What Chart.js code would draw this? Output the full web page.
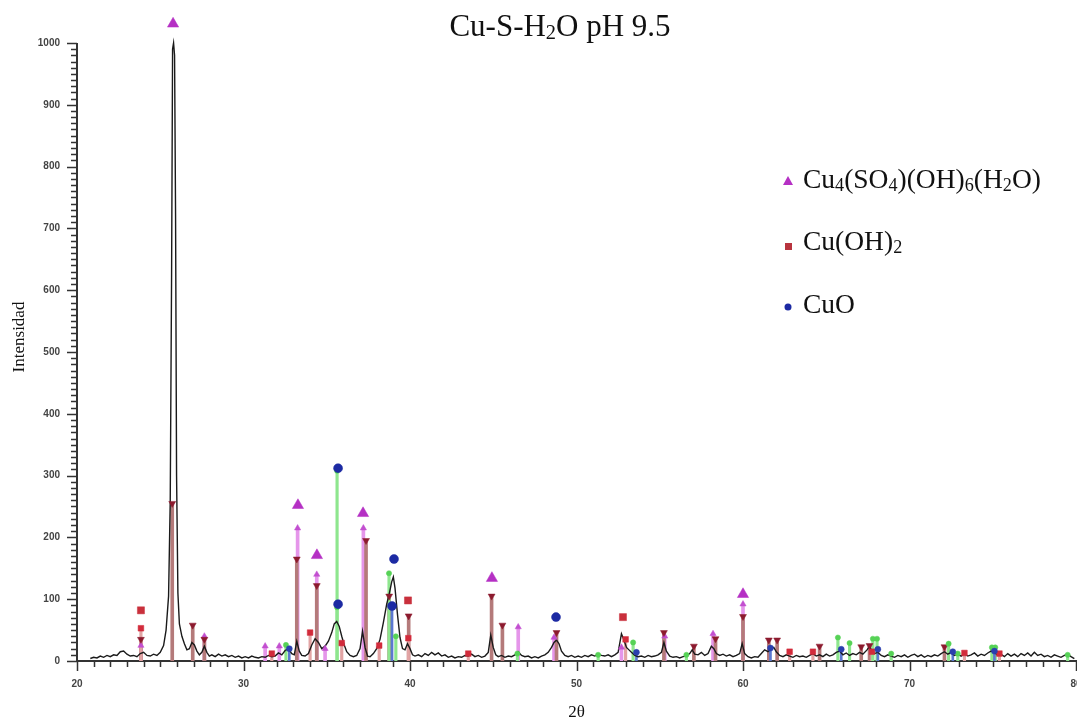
<!DOCTYPE html>
<html>
<head>
<meta charset="utf-8">
<script src="https://cdn.jsdelivr.net/npm/chart.js@4.4.0/dist/chart.umd.min.js"></script>
<style>
    html, body { margin: 0; padding: 0; background: #fff; }
    #caixa { width: 1077px; height: 725px; }
</style>
</head>
<body>
<div id="caixa"><canvas id="difratograma"></canvas></div>
<script>
// textos (o "_" marca o indice que vai em subscrito)
let tituloGrafico = 'Cu-S-H_2O pH 9.5';
let nomesFases = ['Cu_4(SO_4)(OH)_6(H_2O)', 'Cu(OH)_2', 'CuO'];

// difratograma medido
let angulo = [
    20.8, 21.0, 21.2, 21.4, 21.6, 21.8, 22.0, 22.2, 22.4, 22.6, 22.8, 23.0, 23.2, 23.4, 23.6, 23.8, 24.0, 24.2, 24.4, 24.6, 24.8, 25.0,
    25.2, 25.35, 25.5, 25.6, 25.68, 25.74, 25.8, 25.86, 25.92, 25.98, 26.06, 26.15, 26.3, 26.45, 26.6, 26.75, 26.9, 27.05, 27.2, 27.35, 27.5, 27.65, 27.8, 27.95,
    28.1, 28.3, 28.5, 28.7, 28.9, 29.1, 29.3, 29.5, 29.7, 29.9, 30.1, 30.3, 30.5, 30.7, 30.9, 31.1, 31.3, 31.5, 31.7, 31.9,
    32.1, 32.3, 32.5, 32.7, 32.9, 33.05, 33.2, 33.35, 33.5, 33.7, 33.9, 34.1, 34.3, 34.5, 34.7, 34.9, 35.1, 35.3, 35.45, 35.6, 35.75, 35.9, 36.05, 36.2, 36.4, 36.6, 36.8,
    37.0, 37.15, 37.3, 37.45, 37.6, 37.8, 38.0, 38.2, 38.4, 38.6, 38.75, 38.9, 39.0, 39.1, 39.25, 39.4, 39.55, 39.7, 39.85, 40.0, 40.15, 40.3,
    40.5, 40.7, 40.9, 41.1, 41.3, 41.5, 41.7, 41.9, 42.1, 42.3, 42.5, 42.7, 42.9, 43.1, 43.3, 43.5, 43.7, 43.9, 44.1, 44.3, 44.5,
    44.7, 44.85, 45.0, 45.15, 45.3, 45.5, 45.7, 45.9, 46.1, 46.3, 46.5, 46.7, 46.9, 47.1, 47.3, 47.5, 47.7, 47.9, 48.1, 48.3, 48.5, 48.65, 48.8, 48.95, 49.1, 49.3, 49.5,
    49.7, 49.9, 50.1, 50.3, 50.5, 50.7, 50.9, 51.1, 51.3, 51.5, 51.7, 51.9, 52.1, 52.3, 52.5, 52.7, 52.85, 53.0, 53.15, 53.3, 53.5, 53.7, 53.9, 54.1, 54.3, 54.5, 54.7, 54.9,
    55.1, 55.25, 55.4, 55.6, 55.8, 56.0, 56.2, 56.4, 56.6, 56.8, 56.95, 57.1, 57.3, 57.5, 57.7, 57.9, 58.1, 58.25, 58.4, 58.6, 58.8, 59.0, 59.2, 59.4, 59.6, 59.8, 59.95, 60.1,
    60.3, 60.5, 60.7, 60.9, 61.1, 61.3, 61.5, 61.7, 61.85, 62.0, 62.2, 62.4, 62.6, 62.8, 63.0, 63.2, 63.4, 63.6, 63.8, 64.0, 64.2, 64.4, 64.6,
    64.8, 65.0, 65.2, 65.4, 65.6, 65.8, 66.0, 66.2, 66.4, 66.6, 66.8, 67.0, 67.2, 67.45, 67.6, 67.75, 67.9, 68.1, 68.3, 68.5, 68.7, 68.9, 69.1, 69.3, 69.5, 69.7, 69.9,
    70.1, 70.3, 70.5, 70.7, 70.9, 71.1, 71.3, 71.5, 71.7, 71.9, 72.1, 72.3, 72.5, 72.7, 72.9, 73.1, 73.3, 73.5, 73.7, 73.9, 74.1, 74.3, 74.5, 74.7, 74.9,
    75.1, 75.3, 75.5, 75.7, 75.9, 76.1, 76.3, 76.5, 76.7, 76.9, 77.1, 77.3, 77.5, 77.7, 77.9, 78.1, 78.3, 78.5, 78.7, 78.9, 79.1, 79.3, 79.5, 79.7, 79.9
];
let contagens = [
    4, 6, 5, 8, 6, 9, 7, 10, 9, 15, 16, 11, 8, 9, 7, 12, 14, 9, 8, 11, 9, 14,
    25, 50, 105, 260, 620, 990, 1000, 980, 720, 300, 110, 60, 40, 28, 18, 20, 30, 26, 16, 10, 14, 24, 14, 8,
    10, 7, 11, 8, 10, 7, 9, 6, 8, 5, 7, 5, 8, 6, 5, 7, 6, 9, 7, 8,
    13, 10, 17, 20, 12, 10, 32, 16, 9, 8, 12, 26, 36, 30, 20, 24, 32, 46, 60, 64, 56, 40, 26, 15, 9, 7, 9,
    20, 48, 22, 8, 7, 12, 20, 35, 62, 92, 108, 128, 136, 118, 75, 38, 20, 18, 28, 20, 10, 8,
    10, 7, 12, 9, 14, 10, 13, 8, 10, 6, 8, 5, 7, 6, 9, 8, 11, 7, 9, 6, 8,
    14, 42, 22, 10, 7, 9, 6, 8, 7, 10, 15, 9, 7, 8, 5, 7, 5, 8, 10, 14, 22, 30, 34, 28, 16, 9, 7,
    9, 6, 8, 6, 9, 7, 10, 8, 11, 9, 8, 10, 7, 10, 14, 44, 34, 22, 18, 14, 9, 7, 8, 6, 9, 7, 8, 10,
    14, 30, 16, 8, 6, 7, 5, 7, 8, 12, 18, 11, 10, 14, 9, 12, 24, 20, 12, 9, 11, 8, 10, 7, 9, 12, 28, 12,
    7, 5, 7, 6, 12, 18, 15, 20, 22, 15, 9, 7, 10, 8, 6, 9, 7, 8, 6, 9, 12, 8, 10,
    7, 11, 8, 10, 14, 16, 10, 13, 9, 12, 10, 14, 11, 18, 24, 15, 12, 14, 9, 7, 10, 8, 6, 9, 7, 10, 6,
    9, 11, 7, 10, 6, 9, 7, 10, 8, 12, 15, 11, 14, 9, 11, 8, 12, 8, 10, 13, 8, 11, 9, 13, 16,
    14, 9, 11, 7, 12, 8, 11, 7, 12, 9, 13, 8, 14, 9, 11, 7, 9, 6, 10, 8, 6, 9, 11, 7, 4
];

// marcadores grandes de identificacao das fases
let sulfatoX = [25.77, 33.27, 34.41, 37.18, 44.92, 60.0];
let sulfatoY = [1031, 252, 171, 239, 134, 108];
let hidroxidoX = [23.84, 39.88, 52.79];
let hidroxidoY = [82, 98, 71];
let tenoritaX = [35.68, 35.68, 38.92, 39.04, 48.77];
let tenoritaY = [312, 92, 89, 165, 71];

// linhas de referencia (bastoes) das fichas
let rosaX = [23.84, 27.65, 31.3, 32.15, 33.25, 34.4, 34.9, 37.2, 46.5, 48.65, 52.7, 55.3, 58.2, 60.0];
let rosaY = [25, 40, 24, 24, 215, 140, 20, 215, 55, 38, 22, 40, 44, 92];
let granadaX = [23.84, 25.72, 26.95, 27.65, 33.2, 34.4, 37.36, 38.75, 39.92, 44.9, 45.55, 48.8, 55.25, 57.05, 58.35, 60.0, 61.55, 62.05, 64.6, 67.1, 67.6, 72.1];
let granadaY = [35, 255, 58, 35, 165, 122, 195, 105, 73, 105, 58, 46, 46, 24, 36, 72, 34, 34, 24, 23, 25, 23];
let vermelhoX = [23.84, 31.7, 34.0, 35.9, 38.15, 39.9, 43.5, 52.95, 62.8, 64.2, 67.75, 73.3, 75.4];
let vermelhoY = [53, 12, 46, 29, 25, 37, 12, 35, 15, 15, 15, 13, 12];
let verdeX = [32.55, 35.62, 35.62, 38.74, 39.15, 46.45, 51.3, 53.4, 56.6, 65.7, 66.4, 67.8, 68.05, 68.9, 72.35, 72.9, 74.95, 75.15, 79.5];
let verdeY = [26, 308, 87, 142, 40, 12, 10, 30, 10, 38, 29, 36, 36, 12, 28, 12, 22, 22, 10];
let azulX = [32.75, 38.92, 53.6, 61.65, 65.9, 68.1, 72.6, 75.1];
let azulY = [20, 89, 14, 21, 19, 19, 15, 16];

let eixoXMarcas = [20, 30, 40, 50, 60, 70, 80];
let eixoYMarcas = [0, 100, 200, 300, 400, 500, 600, 700, 800, 900, 1000];

function juntar(xs, ys) {
    return xs.map((x, i) => ({x: x, y: ys[i]}));
}

function bastoes(xs, ys, cor, largura) {
    return {
        type: 'bar',
        data: juntar(xs, ys),
        backgroundColor: cor,
        borderWidth: 0,
        barThickness: largura,
        stack: 'fichas',
        order: 5
    };
}

function pontos(xs, ys, cor, estilo, raio, rotacao, ordem) {
    return {
        type: 'scatter',
        data: juntar(xs, ys),
        backgroundColor: cor,
        borderColor: cor,
        borderWidth: 0.5,
        pointStyle: estilo,
        pointRadius: raio,
        rotation: rotacao,
        clip: false,
        order: ordem
    };
}

function partesTexto(texto) {
    let partes = [];
    for (let i = 0; i < texto.length; i++) {
        let sub = texto[i] === '_';
        let c = sub ? texto[++i] : texto[i];
        let ultima = partes[partes.length - 1];
        if (ultima && ultima.sub === sub) {
            ultima.t += c;
        } else {
            partes.push({t: c, sub: sub});
        }
    }
    return partes;
}

function desenharFormula(ctx, texto, x, y, tam, centrado) {
    let fonte = s => s + 'px "Liberation Serif", "Times New Roman", serif';
    let partes = partesTexto(texto);
    let total = 0;
    for (let p of partes) {
        ctx.font = fonte(p.sub ? tam * 0.66 : tam);
        p.w = ctx.measureText(p.t).width;
        total += p.w;
    }
    let cx = centrado ? x - total / 2 : x;
    ctx.textAlign = 'left';
    ctx.textBaseline = 'alphabetic';
    ctx.fillStyle = '#111';
    for (let p of partes) {
        ctx.font = fonte(p.sub ? tam * 0.66 : tam);
        ctx.fillText(p.t, cx, p.sub ? y + tam * 0.1 : y);
        cx += p.w;
    }
}

let pluginMoldura = {
    id: 'moldura',
    afterDraw: function (chart) {
        let ctx = chart.ctx;
        let area = chart.chartArea;
        let ex = chart.scales.x;
        let ey = chart.scales.y;
        ctx.save();

        // eixo vertical so ate 1000, com tracinhos
        ctx.strokeStyle = '#333';
        ctx.lineWidth = 2;
        ctx.beginPath();
        ctx.moveTo(area.left, area.bottom);
        ctx.lineTo(area.left, ey.getPixelForValue(1000));
        ctx.stroke();

        ctx.lineWidth = 1.5;
        ctx.beginPath();
        for (let v = 0; v <= 1000; v += 10) {
            let py = Math.round(ey.getPixelForValue(v)) + 0.5;
            let tam = v % 100 === 0 ? 10 : 6;
            ctx.moveTo(area.left - tam, py);
            ctx.lineTo(area.left, py);
        }
        for (let v = 20; v <= 80; v += 1) {
            let px = Math.round(ex.getPixelForValue(v)) + 0.5;
            let tam = v % 10 === 0 ? 10 : 6;
            ctx.moveTo(px, area.bottom);
            ctx.lineTo(px, area.bottom + tam);
        }
        ctx.stroke();

        // titulo
        desenharFormula(ctx, tituloGrafico, 560, 36, 31, true);

        // legenda
        let linhas = [188, 250, 313];
        ctx.fillStyle = '#b530c4';
        ctx.beginPath();
        ctx.moveTo(788, linhas[0] - 12);
        ctx.lineTo(793, linhas[0] - 3);
        ctx.lineTo(783, linhas[0] - 3);
        ctx.closePath();
        ctx.fill();
        ctx.fillStyle = '#b8343e';
        ctx.fillRect(785, linhas[1] - 7, 7, 7);
        ctx.fillStyle = '#1c2aa3';
        ctx.beginPath();
        ctx.arc(788, linhas[2] - 6, 3.5, 0, Math.PI * 2);
        ctx.fill();

        for (let i = 0; i < nomesFases.length; i++) {
            desenharFormula(ctx, nomesFases[i], 803, linhas[i], 27.5, false);
        }
        ctx.restore();
    }
};

window.onload = function () {
    let contexto = document.getElementById('difratograma').getContext('2d');
    let fonteMarcas = {family: '"Liberation Sans", Arial, sans-serif', size: 10, weight: 'bold'};

    new Chart(contexto, {
        type: 'scatter',
        data: {
            datasets: [
                pontos(sulfatoX, sulfatoY, '#b530c4', 'triangle', 6.5, 0, 0),
                pontos(tenoritaX, tenoritaY, '#1c2aa3', 'circle', 4.5, 0, 0),
                pontos(hidroxidoX, hidroxidoY, '#c9303c', 'rect', 5, 0, 0),
                pontos(azulX, azulY, '#2a3fae', 'circle', 3, 0, 1),
                pontos(verdeX, verdeY, '#56d256', 'circle', 2.6, 0, 1),
                pontos(vermelhoX, vermelhoY, '#d22b3b', 'rect', 4, 0, 1),
                pontos(granadaX, granadaY, '#8c1a2e', 'triangle', 4, 180, 1),
                pontos(rosaX, rosaY, '#c24fd0', 'triangle', 3.6, 0, 1),
                {
                    type: 'line',
                    data: juntar(angulo, contagens),
                    borderColor: '#1a1a1a',
                    borderWidth: 1.4,
                    pointRadius: 0,
                    tension: 0,
                    fill: false,
                    order: 3
                },
                bastoes(azulX, azulY, '#5b78d0', 2),
                bastoes(verdeX, verdeY, '#8ee68e', 2.5),
                bastoes(vermelhoX, vermelhoY, '#e2a4a4', 2.5),
                bastoes(granadaX, granadaY, '#b47a7a', 3),
                bastoes(rosaX, rosaY, '#e596ea', 3)
            ]
        },
        options: {
            responsive: true,
            maintainAspectRatio: false,
            animation: false,
            devicePixelRatio: 1,
            layout: {
                autoPadding: false,
                padding: {top: 13, right: 1, left: 0, bottom: 0}
            },
            plugins: {
                legend: {display: false},
                tooltip: {enabled: false},
                title: {display: false}
            },
            scales: {
                x: {
                    type: 'linear',
                    min: 20,
                    max: 80,
                    offset: false,
                    grid: {display: false, drawTicks: false},
                    border: {display: true, color: '#333', width: 2},
                    afterBuildTicks: function (escala) {
                        escala.ticks = eixoXMarcas.map(v => ({value: v}));
                    },
                    afterFit: function (escala) {
                        escala.height = 64;
                        escala.paddingLeft = 0;
                        escala.paddingRight = 0;
                    },
                    ticks: {
                        color: '#444',
                        font: fonteMarcas,
                        padding: 17,
                        maxRotation: 0,
                        autoSkip: false,
                        callback: v => String(v)
                    },
                    title: {
                        display: true,
                        text: '2θ',
                        color: '#111',
                        font: {family: '"Liberation Serif", "Times New Roman", serif', size: 17},
                        padding: {top: 0, bottom: 2}
                    }
                },
                y: {
                    type: 'linear',
                    min: 0,
                    max: 1048.5,
                    stacked: false,
                    grid: {display: false, drawTicks: false},
                    border: {display: false},
                    afterBuildTicks: function (escala) {
                        escala.ticks = eixoYMarcas.map(v => ({value: v}));
                    },
                    afterFit: function (escala) {
                        escala.width = 77;
                        escala.paddingTop = 0;
                        escala.paddingBottom = 0;
                    },
                    ticks: {
                        color: '#444',
                        font: fonteMarcas,
                        padding: 17,
                        callback: v => String(v)
                    },
                    title: {
                        display: true,
                        text: 'Intensidad',
                        color: '#111',
                        font: {family: '"Liberation Serif", "Times New Roman", serif', size: 17},
                        padding: {top: 9, bottom: 0}
                    }
                }
            }
        },
        plugins: [pluginMoldura]
    });
};
</script>
</body>
</html>
